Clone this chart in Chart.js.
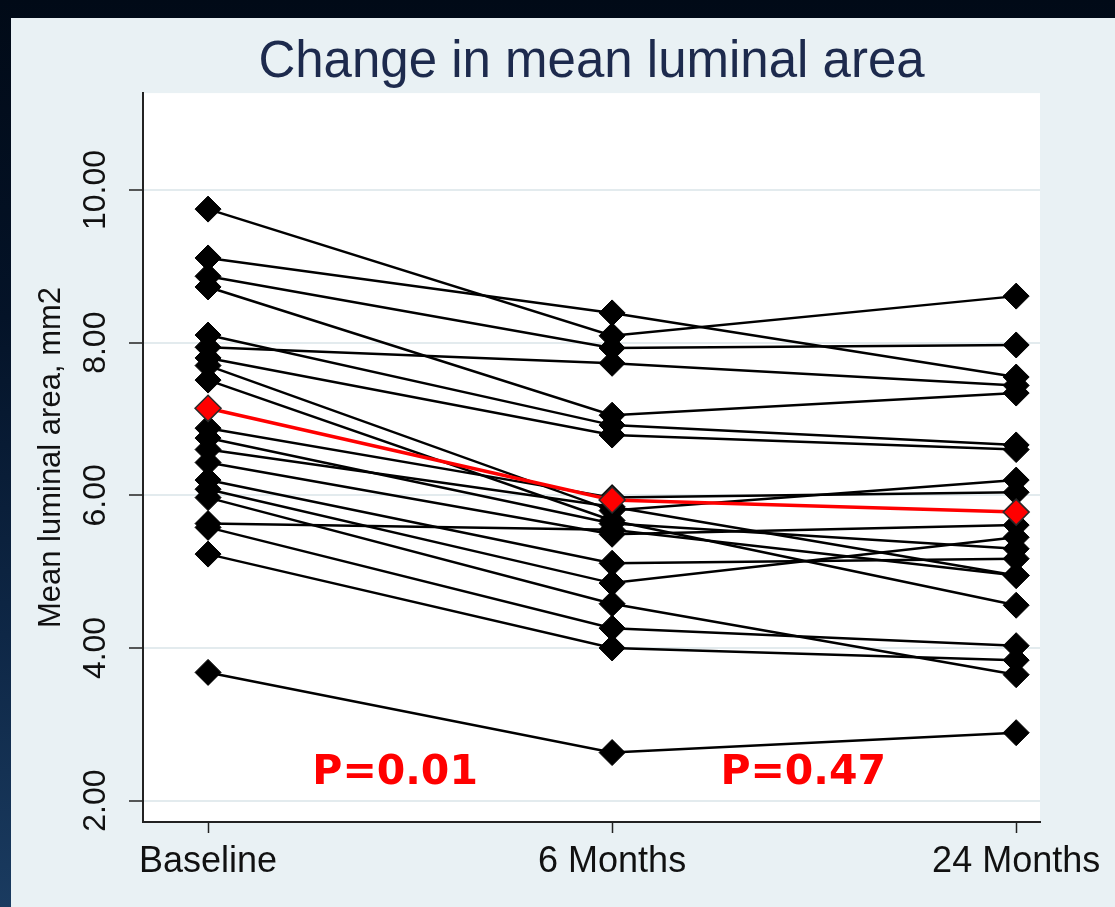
<!DOCTYPE html>
<html>
<head>
<meta charset="utf-8">
<script src="https://cdn.jsdelivr.net/npm/chart.js"></script>
<style>
  html, body {
    margin: 0; padding: 0; width: 1115px; height: 907px; overflow: hidden;
    background: linear-gradient(180deg, #010a17 0%, #041328 35%, #0e2746 70%, #1a3b60 100%);
  }
  #panel {
    position: absolute; left: 11px; top: 18px; width: 1104px; height: 889px;
    background: #e9f1f4;
  }
  canvas { display: block; }
</style>
</head>
<body>
<div id="panel"><canvas id="chart" width="1104" height="889"></canvas></div>
<script>
// Time points on the x axis
const categories = ['Baseline', '6 Months', '24 Months'];

// Mean luminal area (mm2) per patient at each time point
const baselineArea        = [9.75, 9.11, 8.87, 8.73, 8.10, 7.94, 7.80, 7.70, 7.51, 6.88, 6.75, 6.60, 6.43, 6.20, 6.08, 5.97, 5.63, 5.58, 5.23, 3.68];
const sixMonthArea        = [8.09, 8.39, 7.93, 7.05, 6.92, 7.73, 6.79, 5.80, 5.67, 5.97, 5.63, 5.85, 5.49, 5.11, 4.85, 4.58, 5.55, 4.26, 4.00, 2.63];
const twentyFourMonthArea = [8.61, 7.55, 7.97, 7.34, 6.66, 7.44, 6.60, 6.20, 4.56, 6.04, 5.30, 4.95, 5.61, 5.17, 5.45, 3.65, 4.95, 4.03, 3.84, 2.89];

// Group mean
const meanArea = [7.14, 5.94, 5.78];

// Y-axis tick values
const yTicks = [2, 4, 6, 8, 10];

// P-values for each interval
const pValueLabels = ['P=0.01', 'P=0.47'];

// Where the p-value labels sit, in axis units
const pValuePlacement = [
  { x: 0.463, y: 2.36 },
  { x: 1.473, y: 2.36 }
];

const toPoints = (values) => values.map((v, i) => ({ x: i, y: v }));

const patientSets = baselineArea.map((b, i) => ({
  label: 'Patient ' + (i + 1),
  data: toPoints([b, sixMonthArea[i], twentyFourMonthArea[i]]),
  borderColor: '#000000',
  backgroundColor: '#000000',
  borderWidth: 2.5,
  pointStyle: 'rectRot',
  pointRadius: 13,
  pointBorderWidth: 1,
  pointBorderColor: '#000000',
  pointBackgroundColor: '#000000',
  tension: 0,
  order: 2
}));

const meanSet = {
  label: 'Mean',
  data: toPoints(meanArea),
  borderColor: '#ff0000',
  backgroundColor: '#ff0000',
  borderWidth: 3.5,
  pointStyle: 'rectRot',
  pointRadius: 13,
  pointBorderWidth: 1.5,
  pointBorderColor: '#2a2a2a',
  pointBackgroundColor: '#ff0000',
  tension: 0,
  order: 1
};

// White plotting region behind the data
const plotBackground = {
  id: 'plotBackground',
  beforeDraw(chart) {
    const { ctx, chartArea: a } = chart;
    ctx.save();
    ctx.fillStyle = '#ffffff';
    ctx.fillRect(a.left, a.top, a.right - a.left, a.bottom - a.top);
    ctx.restore();
  }
};

// Red p-value text inside the plot
const pValueText = {
  id: 'pValueText',
  afterDatasetsDraw(chart) {
    const { ctx, scales: { x, y } } = chart;
    ctx.save();
    ctx.fillStyle = '#ff0000';
    ctx.font = 'bold 41px "DejaVu Sans"';
    ctx.textAlign = 'center';
    ctx.textBaseline = 'middle';
    pValueLabels.forEach((t, i) => {
      const p = pValuePlacement[i];
      ctx.fillText(t, x.getPixelForValue(p.x), y.getPixelForValue(p.y));
    });
    ctx.restore();
  }
};

new Chart(document.getElementById('chart'), {
  type: 'line',
  data: { datasets: [...patientSets, meanSet] },
  options: {
    responsive: false,
    animation: false,
    devicePixelRatio: 1,
    layout: { padding: { left: 0, right: 75, top: 0, bottom: 0 } },
    plugins: {
      legend: { display: false },
      tooltip: { enabled: false },
      title: {
        display: true,
        fullSize: false,
        text: 'Change in mean luminal area',
        color: '#1d2a4d',
        font: { family: '"Liberation Sans", Arial, sans-serif', size: 51, weight: 'normal', lineHeight: 1.1 },
        padding: { top: 17, bottom: 2 }
      }
    },
    scales: {
      x: {
        type: 'linear',
        min: -0.161,
        max: 2.059,
        afterBuildTicks(scale) {
          scale.ticks = categories.map((c, i) => ({ value: i }));
        },
        afterFit(scale) { scale.height = 85; },
        ticks: {
          color: '#111111',
          padding: 7,
          maxRotation: 0,
          autoSkip: false,
          font: { family: '"Liberation Sans", Arial, sans-serif', size: 36 },
          callback: (v) => categories[v]
        },
        grid: {
          drawOnChartArea: false,
          tickLength: 11,
          tickColor: '#222222',
          tickWidth: 1.5
        },
        border: { display: true, color: '#222222', width: 2 }
      },
      y: {
        type: 'linear',
        min: 1.72,
        max: 11.27,
        afterBuildTicks(scale) {
          scale.ticks = yTicks.map((v) => ({ value: v }));
        },
        afterFit(scale) { scale.width = 132; },
        ticks: {
          color: '#111111',
          minRotation: 90,
          maxRotation: 90,
          crossAlign: 'center',
          padding: -7,
          font: { family: '"Liberation Sans", Arial, sans-serif', size: 32 },
          callback: (v) => Number(v).toFixed(2)
        },
        grid: {
          color: '#e3ebee',
          lineWidth: 2,
          tickLength: 14,
          tickColor: '#222222',
          tickWidth: 1.5
        },
        border: { display: true, color: '#222222', width: 2 },
        title: {
          display: true,
          text: 'Mean luminal area, mm2',
          color: '#111111',
          font: { family: '"Liberation Sans", Arial, sans-serif', size: 31 },
          padding: { top: 22, bottom: 0 }
        }
      }
    }
  },
  plugins: [plotBackground, pValueText]
});
</script>
</body>
</html>
